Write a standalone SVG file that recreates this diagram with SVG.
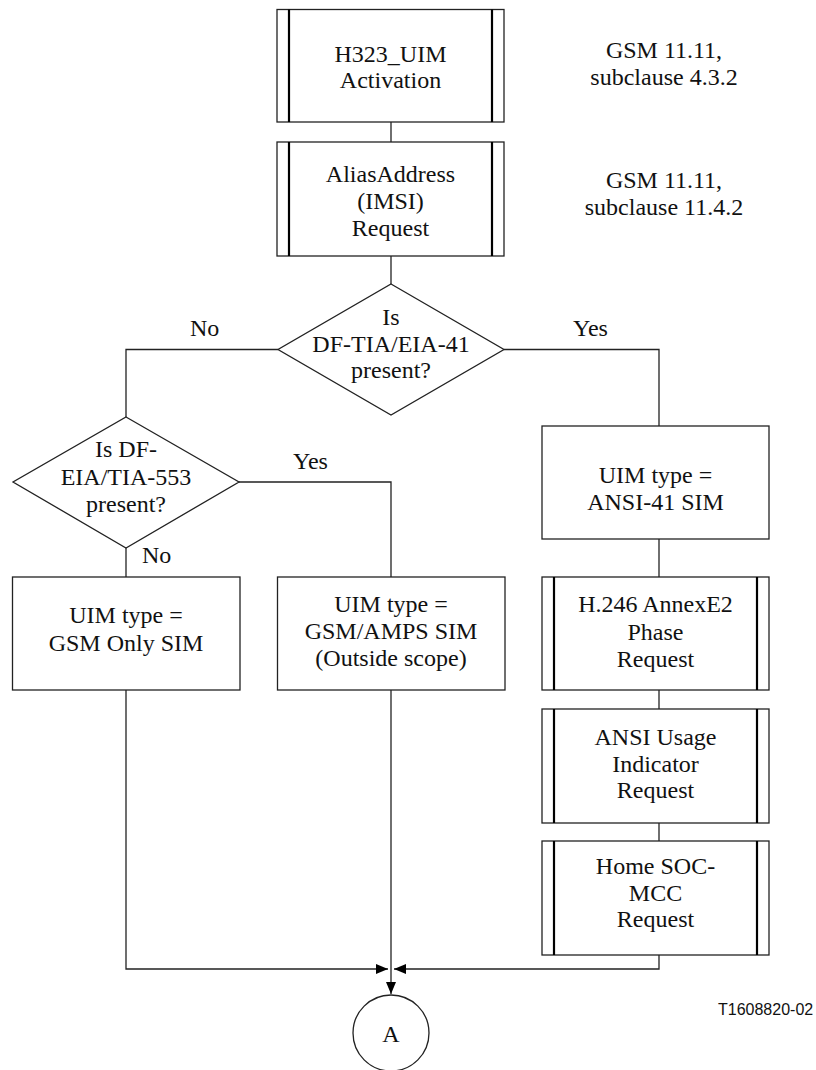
<svg xmlns="http://www.w3.org/2000/svg" width="816" height="1070" viewBox="0 0 816 1070">
<defs>
<style>
.box{fill:#fff;stroke:#222;stroke-width:1.3}
.bar{stroke:#000;stroke-width:2.2}
.ln{fill:none;stroke:#222;stroke-width:1.3}
.t{font-family:"Liberation Serif","Times New Roman",serif;font-size:24px;fill:#111;text-anchor:middle}
.lbl{font-family:"Liberation Serif","Times New Roman",serif;font-size:24px;fill:#111}
.code{font-family:"Liberation Sans",Arial,sans-serif;font-size:16px;fill:#111}
</style>
<marker id="ah" viewBox="0 0 12 10" refX="12" refY="5" markerWidth="12" markerHeight="10" markerUnits="userSpaceOnUse" orient="auto">
<path d="M0,0 L12,5 L0,10 Z" fill="#000"/>
</marker>
</defs>
<rect width="816" height="1070" fill="#fff"/>

<g id="connectors">
<line class="ln" x1="391" y1="122" x2="391" y2="142"/>
<line class="ln" x1="391" y1="256" x2="391" y2="284"/>
<polyline class="ln" points="278,349.5 126,349.5 126,417"/>
<polyline class="ln" points="504,349.5 659,349.5 659,426"/>
<polyline class="ln" points="239,482 391,482 391,577"/>
<line class="ln" x1="126" y1="548" x2="126" y2="577"/>
<line class="ln" x1="659" y1="539" x2="659" y2="577"/>
<line class="ln" x1="659" y1="690" x2="659" y2="709"/>
<line class="ln" x1="659" y1="823" x2="659" y2="841"/>
<polyline class="ln" points="126,690 126,969 388,969" marker-end="url(#ah)"/>
<polyline class="ln" points="659,955 659,969 394,969" marker-end="url(#ah)"/>
<line class="ln" x1="391" y1="690" x2="391" y2="994" marker-end="url(#ah)"/>
<text class="lbl" x="190" y="336">No</text>
<text class="lbl" x="573" y="336">Yes</text>
<text class="lbl" x="293" y="469">Yes</text>
<text class="lbl" x="142" y="563">No</text>
</g>

<g id="n-activation">
<rect class="box" x="277" y="9.5" width="227" height="112.5"/>
<line class="bar" x1="289" y1="9.5" x2="289" y2="122"/>
<line class="bar" x1="492" y1="9.5" x2="492" y2="122"/>
<text class="t" x="390.5" y="62">H323_UIM</text>
<text class="t" x="390.5" y="88">Activation</text>
</g>

<g id="n-alias">
<rect class="box" x="277" y="142" width="227" height="114"/>
<line class="bar" x1="289" y1="142" x2="289" y2="256"/>
<line class="bar" x1="492" y1="142" x2="492" y2="256"/>
<text class="t" x="390.5" y="182">AliasAddress</text>
<text class="t" x="390.5" y="209">(IMSI)</text>
<text class="t" x="390.5" y="236">Request</text>
</g>

<g id="n-note1">
<text class="t" x="664" y="58">GSM 11.11,</text>
<text class="t" x="664" y="85">subclause 4.3.2</text>
</g>
<g id="n-note2">
<text class="t" x="664" y="188">GSM 11.11,</text>
<text class="t" x="664" y="215">subclause 11.4.2</text>
</g>

<g id="n-dec41">
<polygon class="box" points="391,284 504,349.5 391,415 278,349.5"/>
<text class="t" x="391" y="325">Is</text>
<text class="t" x="391" y="352">DF-TIA/EIA-41</text>
<text class="t" x="391" y="378">present?</text>
</g>

<g id="n-dec553">
<polygon class="box" points="126,417 239,482 126,548 13,482"/>
<text class="t" x="126" y="457">Is DF-</text>
<text class="t" x="126" y="485">EIA/TIA-553</text>
<text class="t" x="126" y="512">present?</text>
</g>

<g id="n-ansi41">
<rect class="box" x="542" y="426" width="227" height="113"/>
<text class="t" x="655.5" y="483">UIM type =</text>
<text class="t" x="655.5" y="510">ANSI-41 SIM</text>
</g>

<g id="n-gsmonly">
<rect class="box" x="12.5" y="577" width="227.5" height="113"/>
<text class="t" x="126" y="623">UIM type =</text>
<text class="t" x="126" y="651">GSM Only SIM</text>
</g>

<g id="n-gsmamps">
<rect class="box" x="277.5" y="577" width="227.5" height="113"/>
<text class="t" x="391" y="612">UIM type =</text>
<text class="t" x="391" y="639">GSM/AMPS SIM</text>
<text class="t" x="391" y="666">(Outside scope)</text>
</g>

<g id="n-h246">
<rect class="box" x="542" y="577" width="227" height="113"/>
<line class="bar" x1="554" y1="577" x2="554" y2="690"/>
<line class="bar" x1="757" y1="577" x2="757" y2="690"/>
<text class="t" x="655.5" y="612">H.246 AnnexE2</text>
<text class="t" x="655.5" y="640">Phase</text>
<text class="t" x="655.5" y="667">Request</text>
</g>

<g id="n-usage">
<rect class="box" x="542" y="709" width="227" height="114"/>
<line class="bar" x1="554" y1="709" x2="554" y2="823"/>
<line class="bar" x1="757" y1="709" x2="757" y2="823"/>
<text class="t" x="655.5" y="745">ANSI Usage</text>
<text class="t" x="655.5" y="772">Indicator</text>
<text class="t" x="655.5" y="798">Request</text>
</g>

<g id="n-homesoc">
<rect class="box" x="542" y="841" width="227" height="114"/>
<line class="bar" x1="554" y1="841" x2="554" y2="955"/>
<line class="bar" x1="757" y1="841" x2="757" y2="955"/>
<text class="t" x="655.5" y="874">Home SOC-</text>
<text class="t" x="655.5" y="901">MCC</text>
<text class="t" x="655.5" y="927">Request</text>
</g>

<g id="n-connectorA">
<circle class="box" cx="391" cy="1033" r="38"/>
<text class="t" x="391" y="1042">A</text>
</g>

<g id="n-code">
<text class="code" x="718" y="1015">T1608820-02</text>
</g>
</svg>
